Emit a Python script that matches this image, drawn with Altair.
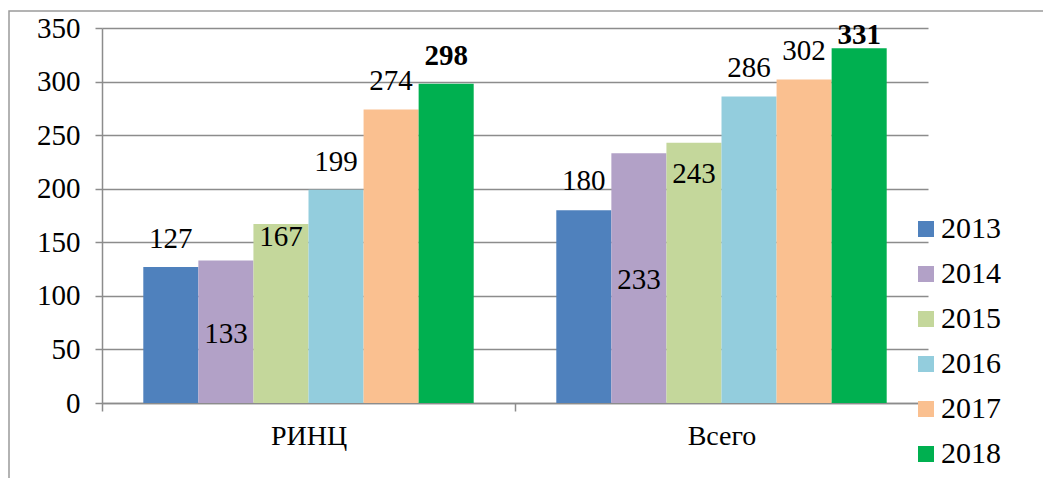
import altair as alt
import pandas as pd

categories = ["РИНЦ", "Всего"]
years = ["2013", "2014", "2015", "2016", "2017", "2018"]
rinc_values = [127, 133, 167, 199, 274, 298]
total_values = [180, 233, 243, 286, 302, 331]
colors = ["#4F81BD", "#B2A1C7", "#C4D79B", "#93CDDD", "#FAC090", "#00B050"]

# label baseline offset (px) relative to bar top, per category/year
label_dy = {
    ("РИНЦ", "2013"): -19, ("РИНЦ", "2014"): 82, ("РИНЦ", "2015"): 22,
    ("РИНЦ", "2016"): -19, ("РИНЦ", "2017"): -19, ("РИНЦ", "2018"): -19,
    ("Всего", "2013"): -20, ("Всего", "2014"): 136, ("Всего", "2015"): 40,
    ("Всего", "2016"): -20, ("Всего", "2017"): -19, ("Всего", "2018"): -4,
}

rows = []
for cat, vals in zip(categories, [rinc_values, total_values]):
    for y, v in zip(years, vals):
        rows.append({"cat": cat, "year": y, "value": v})
df = pd.DataFrame(rows)

FONT = "Liberation Serif"
GRAY = "#8C8C8C"

x_enc = alt.X("cat:N", sort=categories, title=None,
              scale=alt.Scale(paddingInner=0, paddingOuter=0),
              axis=alt.Axis(labelAngle=0, labelFont=FONT, labelFontSize=28,
                            labelColor="black", domainColor=GRAY, domainWidth=1.5,
                            tickColor=GRAY, tickWidth=1.5, tickSize=8,
                            tickBand="extent", labelPadding=11))
xoff = alt.XOffset("year:N", sort=years,
                   scale=alt.Scale(paddingInner=0, paddingOuter=0.75))
y_enc = alt.Y("value:Q", title=None,
              scale=alt.Scale(domain=[0, 350], nice=False),
              axis=alt.Axis(values=list(range(0, 351, 50)), labelFont=FONT,
                            labelFontSize=29, labelColor="black",
                            domainColor=GRAY, domainWidth=1.5,
                            tickColor=GRAY, tickWidth=1.5, tickSize=7,
                            labelPadding=15, grid=True, gridColor=GRAY,
                            gridWidth=1.5))

base = alt.Chart(df)

border = alt.Chart(pd.DataFrame({"a": [0]})).mark_rect(
    fill=None, stroke="#9A9A9A", strokeWidth=1.5
).encode(x=alt.value(-93), x2=alt.value(1200), y=alt.value(-17), y2=alt.value(800))

bars = base.mark_bar().encode(
    x=x_enc, xOffset=xoff, y=y_enc,
    color=alt.Color("year:N", sort=years,
                    scale=alt.Scale(domain=years, range=colors),
                    legend=alt.Legend(title=None, orient="none", legendX=809,
                                      legendY=186, symbolType="square",
                                      symbolSize=256, symbolStrokeWidth=0,
                                      labelFont=FONT, labelFontSize=30,
                                      labelColor="black", labelOffset=0,
                                      rowPadding=15, padding=0)),
)

layers = [border, bars]
for (cat, yr), dy in label_dy.items():
    bold = yr == "2018"
    t = base.transform_filter(
        (alt.datum.cat == cat) & (alt.datum.year == yr)
    ).mark_text(font=FONT, fontSize=29, fontWeight="bold" if bold else "normal",
                baseline="alphabetic", align="center", dy=dy, color="black").encode(
        x=alt.X("cat:N", sort=categories), xOffset=xoff,
        y=alt.Y("value:Q"), text=alt.Text("value:Q"))
    layers.append(t)

chart = alt.layer(*layers).properties(
    width=826, height=375,
    autosize=alt.AutoSizeParams(type="none"),
    padding={"left": 94, "top": 20, "right": 115, "bottom": 75},
).configure_view(stroke=None)

chart.save("out.html", embed_options={"renderer": "svg", "actions": False})
